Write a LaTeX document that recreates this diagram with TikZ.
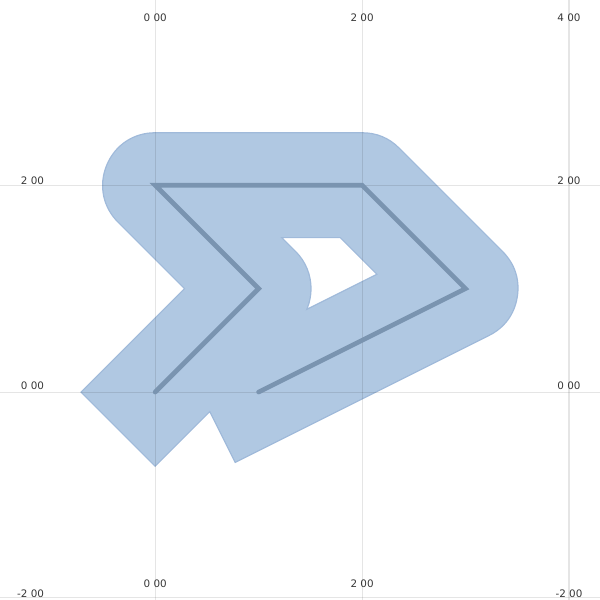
\documentclass[tikz,border=0pt]{standalone}
\usepackage{fontspec}
\newfontfamily\labfont{DejaVu Sans}
\definecolor{fillc}{RGB}{176,200,226}
\definecolor{bordc}{RGB}{160,186,218}
\definecolor{pathc}{RGB}{122,148,176}
\definecolor{labc}{RGB}{55,55,55}
\begin{document}
\begin{tikzpicture}[x=1cm,y=1cm,
  lab/.style={font=\labfont\fontsize{2.85}{3.2}\selectfont, text=labc, inner sep=0pt},
  gridline/.style={black, opacity=0.1, line width=0.3pt},
  bandborder/.style={bordc, line width=1.025cm, line join=round, line cap=rect},
  band/.style={fillc, line width=1cm, line join=round, line cap=rect},
  spine/.style={pathc, line width=0.045cm, line join=miter, line cap=round}]
\useasboundingbox (-1.5,-2.01) rectangle (4.3,3.79);
\coordinate (p0) at (0,0);
\coordinate (p1) at (1,1);
\coordinate (p2) at (0,2);
\coordinate (p3) at (2,2);
\coordinate (p4) at (3,1);
\coordinate (p5) at (1,0);
\draw[bandborder] (p0) -- (p1) -- (p2) -- (p3) -- (p4) -- (p5);
\draw[band] (p0) -- (p1) -- (p2) -- (p3) -- (p4) -- (p5);
% grid
\coordinate (vt0) at (0,3.79); \coordinate (vb0) at (0,-2.01);
\coordinate (vt2) at (2,3.79); \coordinate (vb2) at (2,-2.01);
\coordinate (vt4) at (4,3.79); \coordinate (vb4) at (4,-2.01);
\coordinate (hl2) at (-1.5,2); \coordinate (hr2) at (4.3,2);
\coordinate (hl0) at (-1.5,0); \coordinate (hr0) at (4.3,0);
\coordinate (hlm) at (-1.5,-1.99); \coordinate (hrm) at (4.3,-1.99);
\draw[gridline] (vt0) -- (vb0);
\draw[gridline] (vt2) -- (vb2);
\draw[gridline] (vt4) -- (vb4);
\draw[gridline] (hl2) -- (hr2);
\draw[gridline] (hl0) -- (hr0);
\draw[gridline] (hlm) -- (hrm);
\draw[spine] (p0) -- (p1) -- (p2) -- (p3) -- (p4) -- (p5);
% labels
\node[lab] (t0) at (0,3.623) {0 00};
\node[lab] (t2) at (2,3.623) {2 00};
\node[lab] (t4) at (4,3.623) {4 00};
\node[lab] (b0) at (0,-1.85) {0 00};
\node[lab] (b2) at (2,-1.85) {2 00};
\node[lab, anchor=east] (l2) at (-1.068,2.045) {2 00};
\node[lab, anchor=east] (l0) at (-1.068,0.06) {0 00};
\node[lab, anchor=east] (lm) at (-1.068,-1.952) {-2 00};
\node[lab] (r2) at (4,2.045) {2 00};
\node[lab] (r0) at (4,0.06) {0 00};
\node[lab] (rm) at (4,-1.952) {-2 00};
\end{tikzpicture}
\end{document}
